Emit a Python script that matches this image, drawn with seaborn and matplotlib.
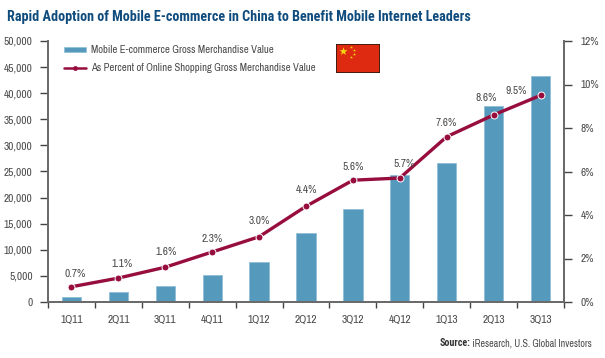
#!/usr/bin/env python3
# -*- coding: utf-8 -*-
import matplotlib
matplotlib.use('Agg')
import matplotlib.pyplot as plt
import pandas as pd
import seaborn as sns
from matplotlib import font_manager as fm
from matplotlib.lines import Line2D
from matplotlib.patches import Patch, Rectangle

quarters = ['1Q11', '2Q11', '3Q11', '4Q11', '1Q12', '2Q12', '3Q12', '4Q12', '1Q13', '2Q13', '3Q13']
gmv = [1000, 2000, 3100, 5200, 7600, 13300, 17900, 24300, 26700, 37500, 43300]
pct = [0.7, 1.1, 1.6, 2.3, 3.0, 4.4, 5.6, 5.7, 7.6, 8.6, 9.5]
gmv_ticks = [0, 5000, 10000, 15000, 20000, 25000, 30000, 35000, 40000, 45000, 50000]
pct_ticks = [0, 2, 4, 6, 8, 10, 12]

BAR = '#5599bc'
LINE = '#970d3e'
AXIS = '#6b6b6b'
TEXT = '#4a4a4a'
TITLE = '#0f4c7d'

sns.set_style('white')

# 窄体字优先，没有就退回 Liberation Sans 并缩小字号
installed = {f.name for f in fm.fontManager.ttflist}
if 'Archivo Narrow' in installed and 'Roboto Condensed' in installed:
    plt.rcParams['font.family'] = ['Archivo Narrow', 'Liberation Sans', 'DejaVu Sans']
    BOLD = ['Roboto Condensed', 'Liberation Sans', 'DejaVu Sans']
    FS, FS_LEG, FS_TITLE, FS_SRC = 8.2, 7.7, 10.2, 7.2
else:
    plt.rcParams['font.family'] = ['Liberation Sans', 'DejaVu Sans']
    BOLD = ['Liberation Sans', 'DejaVu Sans']
    FS, FS_LEG, FS_TITLE, FS_SRC = 6.5, 6.3, 8.7, 6.0

W, H = 605, 358
fig = plt.figure(figsize=(W / 100, H / 100), dpi=100)
ax = fig.add_axes([48 / W, 1 - 302 / H, 516 / W, 261 / H])
df = pd.DataFrame({'quarter': quarters, 'gmv': gmv, 'pct': pct})

# 柱子
sns.barplot(data=df, x='quarter', y='gmv', color=BAR, width=0.41, saturation=1,
            edgecolor='#8fbfd6', linewidth=0.6, ax=ax)
ax.set_xlim(-0.5, 10.5)
ax.set_ylim(0, 50000)
ax.set_xlabel('')
ax.set_ylabel('')
ax.set_yticks(gmv_ticks)
ax.set_yticklabels([f'{v:,}' for v in gmv_ticks])
ax.set_xticks(range(len(quarters)))
ax.set_xticklabels(quarters)
ax.tick_params(axis='x', length=0, pad=9, labelcolor=TEXT, labelsize=FS)
ax.tick_params(axis='y', length=6, width=1, color='#444444', pad=5, labelcolor=TEXT, labelsize=FS,
               left=True)
# 类别之间的刻度
ax.set_xticks([i - 0.5 for i in range(len(quarters) + 1)], minor=True)
ax.tick_params(axis='x', which='minor', length=4, width=1, color='#444444', bottom=True)

# 折线用右轴
ax2 = ax.twinx()
sns.lineplot(data=df, x='quarter', y='pct', color=LINE, linewidth=2.4, marker='o', markersize=5,
             markerfacecolor=LINE, markeredgecolor='white', markeredgewidth=0.7, ax=ax2)
ax2.set_ylim(0, 12)
ax2.set_xlabel('')
ax2.set_ylabel('')
ax2.set_yticks(pct_ticks)
ax2.set_yticklabels([f'{v}%' for v in pct_ticks])
ax2.tick_params(axis='y', length=6, width=1, color='#444444', pad=6, labelcolor=TEXT, labelsize=FS,
                right=True)

for a in (ax, ax2):
    a.spines['top'].set_visible(False)
    for side in ('left', 'right', 'bottom'):
        a.spines[side].set_color(AXIS)
        a.spines[side].set_linewidth(1.4)

# 数据标签
label_dx = [4, 4, 1, 0, 0, 0, 0, 4, 0, -7, -24]
label_dy = [13, 14, 15, 13, 16, 16, 13, 14, 14, 17, 4]
for i, v in enumerate(pct):
    ax2.annotate(f'{v}%', (i, v), xytext=(label_dx[i] * 0.72, label_dy[i] * 0.72),
                 textcoords='offset points', ha='center', va='center', color=TEXT, fontsize=FS)

handles = [Patch(facecolor=BAR, edgecolor='#8fbfd6', linewidth=0.5),
           Line2D([], [], color=LINE, lw=1.8, marker='o', markersize=3.5,
                  markerfacecolor=LINE, markeredgewidth=0)]
ax2.legend(handles, ['Mobile E-commerce Gross Merchandise Value',
                     'As Percent of Online Shopping Gross Merchandise Value'],
           loc='upper left', bbox_to_anchor=(13 / 516, 1 - 1 / 261), frameon=False, fontsize=FS_LEG,
           labelcolor=TEXT, handlelength=2.0, handleheight=0.45, handletextpad=0.5, labelspacing=0.72,
           borderaxespad=0, borderpad=0.3)

# 国旗
flag = fig.add_axes([336 / W, 1 - 73 / H, 44 / W, 29 / H])
flag.set_xlim(0, 44)
flag.set_ylim(29, 0)
flag.axis('off')
flag.add_patch(Rectangle((0, 0), 44, 29, facecolor='#de2a10', edgecolor='#2a1a12', linewidth=1.2))
flag.scatter([7], [7], marker='*', s=38, color='#f6d90f', linewidth=0)
flag.scatter([15, 18, 18, 15], [3, 6, 10, 13], marker='*', s=5, color='#f6d90f', linewidth=0)

fig.text(7 / W, 1 - 17 / H, 'Rapid Adoption of Mobile E-commerce in China to Benefit Mobile Internet Leaders',
         color=TITLE, fontsize=FS_TITLE, fontweight='bold', family=BOLD, ha='left', va='center')
src = fig.text(592 / W, 1 - 343 / H, ' iResearch, U.S. Global Investors', color=TEXT, fontsize=FS_SRC,
               ha='right', va='center')
fig.canvas.draw()
box = src.get_window_extent()
fig.text(box.x0 / fig.bbox.width, 1 - 343 / H, 'Source:', color='#333333', fontsize=FS_SRC,
         fontweight='bold', family=BOLD, ha='right', va='center')

fig.savefig('out.png', dpi=100)
